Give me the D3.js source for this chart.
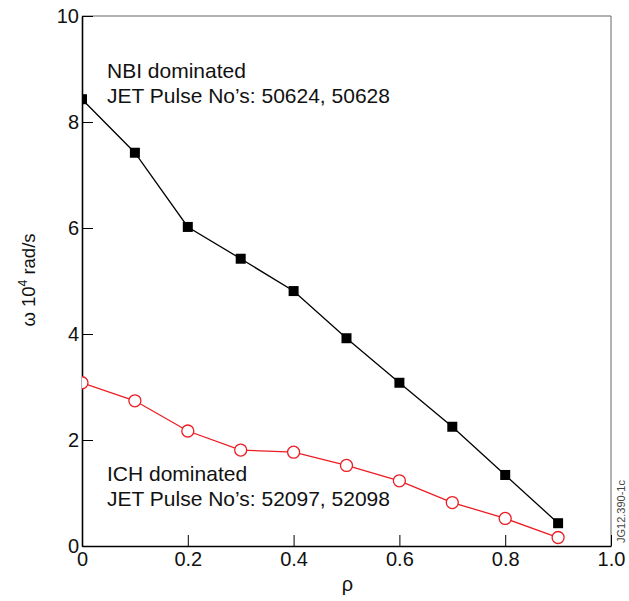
<!DOCTYPE html>
<html>
<head>
<meta charset="utf-8">
<script src="https://cdn.jsdelivr.net/npm/d3@7"></script>
<style>
  body { margin: 0; background: #fff; }
  svg { display: block; font-family: "Liberation Sans", Arial, sans-serif; }
</style>
</head>
<body>
<div id="chart"></div>
<script>
/** Data */
const rho = [0, 0.1, 0.2, 0.3, 0.4, 0.5, 0.6, 0.7, 0.8, 0.9];
const nbiOmega = [8.43, 7.42, 6.02, 5.42, 4.81, 3.92, 3.08, 2.25, 1.34, 0.43];
const ichOmega = [3.08, 2.74, 2.17, 1.81, 1.77, 1.52, 1.23, 0.82, 0.52, 0.16];
const xTicks = [0, 0.2, 0.4, 0.6, 0.8, 1.0];
const yTicks = [0, 2, 4, 6, 8, 10];

const w = 629, h = 601;
const margin = {top: 16, right: 18, bottom: 55, left: 82};
const width = w - margin.left - margin.right;
const height = h - margin.top - margin.bottom;

const svg = d3.select("#chart").append("svg")
  .attr("width", w)
  .attr("height", h);

const g = svg.append("g")
  .attr("transform", "translate(" + margin.left + "," + margin.top + ")");

const xScale = d3.scaleLinear().domain([0, 1]).range([0, width]);
const yScale = d3.scaleLinear().domain([0, 10]).range([height, 0]);

// clip marks to the frame
svg.append("defs").append("clipPath").attr("id", "clip")
  .append("rect").attr("width", width).attr("height", height);

// thin grey top / right frame
g.append("path")
  .attr("d", "M0,0H" + width + "V" + height)
  .attr("fill", "none")
  .attr("stroke", "#666")
  .attr("stroke-width", 1);

/** axes, ticks pointing inward */
const xAxis = d3.axisBottom(xScale)
  .tickValues(xTicks)
  .tickFormat((d) => d === 0 ? "0" : d3.format(".1f")(d))
  .tickSizeInner(-11).tickSizeOuter(0).tickPadding(6);
const yAxis = d3.axisLeft(yScale)
  .tickValues(yTicks)
  .tickSizeInner(-11).tickSizeOuter(0).tickPadding(3);

g.append("g")
  .attr("transform", "translate(0," + height + ")")
  .call(xAxis)
  .call((a) => a.selectAll("text").style("font-size", "20px").attr("fill", "#111"))
  .call((a) => a.select(".domain").attr("stroke-width", 1.6));

g.append("g")
  .call(yAxis)
  .call((a) => a.selectAll("text").style("font-size", "20px").attr("fill", "#111"))
  .call((a) => a.select(".domain").attr("stroke-width", 1.6));

/** series */
const nbi = rho.map((r, i) => ({x: r, y: nbiOmega[i]}));
const ich = rho.map((r, i) => ({x: r, y: ichOmega[i]}));
const line = d3.line().x((d) => xScale(d.x)).y((d) => yScale(d.y));

const plot = g.append("g").attr("clip-path", "url(#clip)");

plot.append("path")
  .datum(nbi)
  .attr("d", line)
  .attr("fill", "none")
  .attr("stroke", "#000")
  .attr("stroke-width", 1.3);

plot.selectAll("rect.nbi")
  .data(nbi)
  .enter()
  .append("rect")
  .attr("class", "nbi")
  .attr("x", (d) => xScale(d.x) - 5)
  .attr("y", (d) => yScale(d.y) - 5)
  .attr("width", 10)
  .attr("height", 10)
  .attr("fill", "#000");

plot.append("path")
  .datum(ich)
  .attr("d", line)
  .attr("fill", "none")
  .attr("stroke", "#ec1c24")
  .attr("stroke-width", 1.3);

plot.selectAll("circle.ich")
  .data(ich)
  .enter()
  .append("circle")
  .attr("class", "ich")
  .attr("cx", (d) => xScale(d.x))
  .attr("cy", (d) => yScale(d.y))
  .attr("r", 6)
  .attr("fill", "#fff")
  .attr("stroke", "#ec1c24")
  .attr("stroke-width", 1.3);

/** annotations */
const note = (x, y, lines) => {
  const t = svg.append("text")
    .attr("x", x).attr("y", y)
    .attr("fill", "#111")
    .style("font-size", "21px");
  lines.forEach((s, i) => {
    t.append("tspan").attr("x", x).attr("dy", i ? 25 : 0).text(s);
  });
};
note(107, 78, ["NBI dominated", "JET Pulse No\u2019s: 50624, 50628"]);
note(107, 481, ["ICH dominated", "JET Pulse No\u2019s: 52097, 52098"]);

// axis titles
svg.append("text")
  .attr("x", margin.left + width / 2 + 1)
  .attr("y", 591)
  .attr("text-anchor", "middle")
  .attr("fill", "#111")
  .style("font-size", "20px")
  .text("\u03c1");

const yl = svg.append("text")
  .attr("transform", "translate(35,280) rotate(-90)")
  .attr("text-anchor", "middle")
  .attr("fill", "#111")
  .style("font-size", "18.5px");
yl.append("tspan").text("\u03c9 10");
yl.append("tspan").attr("dy", -8).style("font-size", "12px").text("4");
yl.append("tspan").attr("dy", 8).text(" rad/s");

// figure id
svg.append("text")
  .attr("transform", "translate(625,543) rotate(-90)")
  .attr("fill", "#444")
  .style("font-size", "11px")
  .text("JG12.390-1c");
</script>
</body>
</html>
